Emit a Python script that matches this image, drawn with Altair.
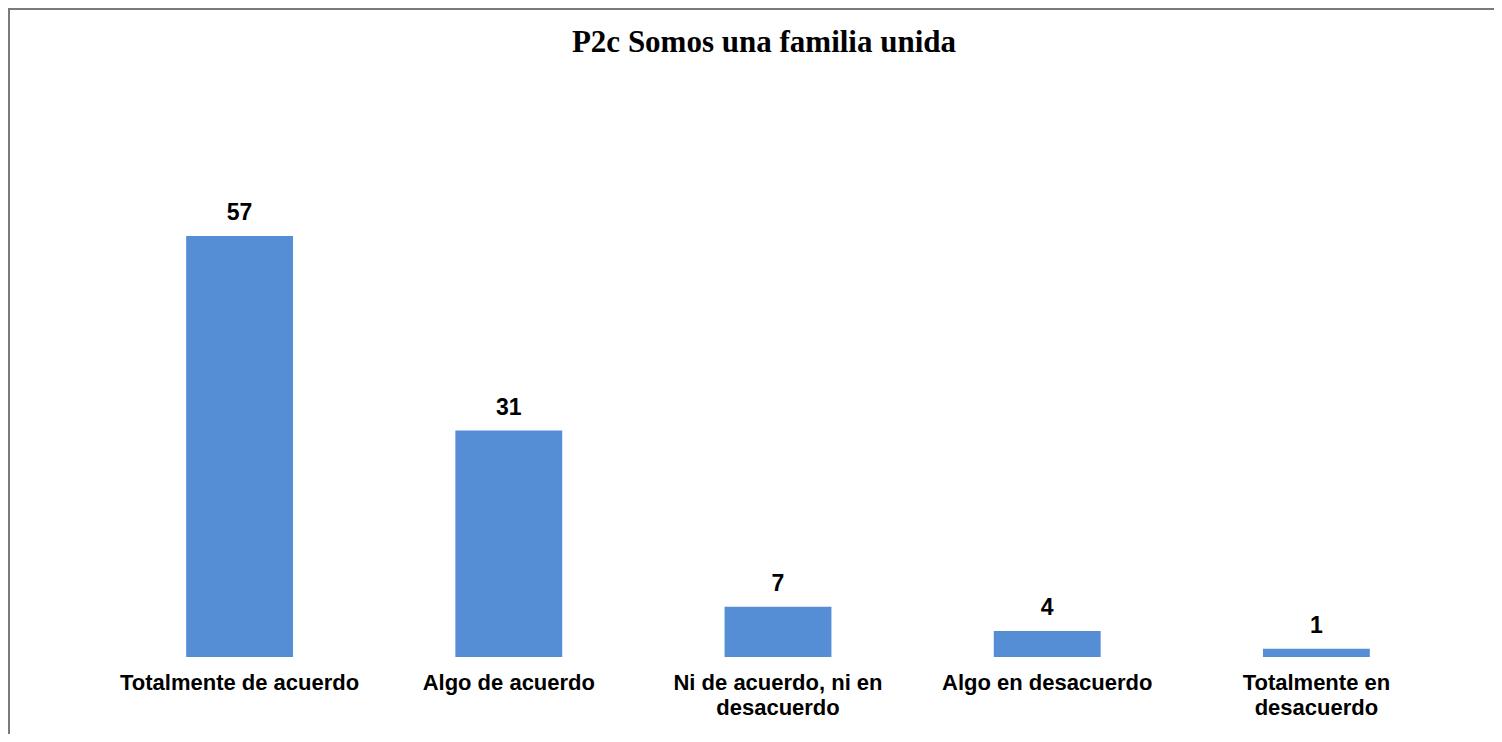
import altair as alt
import pandas as pd

categories = [
    "Totalmente de acuerdo",
    "Algo de acuerdo",
    "Ni de acuerdo, ni en desacuerdo",
    "Algo en desacuerdo",
    "Totalmente en desacuerdo",
]
values = [56.9, 30.6, 6.8, 3.5, 1.1]
label_lines = [
    ["Totalmente de acuerdo"],
    ["Algo de acuerdo"],
    ["Ni de acuerdo, ni en", "desacuerdo"],
    ["Algo en desacuerdo"],
    ["Totalmente en", "desacuerdo"],
]
title_text = "P2c Somos una familia unida"

df = pd.DataFrame({"cat": categories, "val": values})

W, H = 1486, 726
BASE = 649

# label expression that wraps the category names
parts = []
for c, lines in zip(categories, label_lines):
    arr = "[" + ",".join("'" + l + "'" for l in lines) + "]"
    parts.append(f"datum.label == '{c}' ? {arr} : ")
label_expr = "".join(parts) + "datum.label"

x_enc = alt.X(
    "cat:N",
    sort=categories,
    scale=alt.Scale(range=[97, 1443], paddingInner=0.603, paddingOuter=0.3015),
    axis=alt.Axis(
        title=None,
        orient="bottom",
        offset=-(H - BASE),
        domain=False,
        ticks=False,
        labelAngle=0,
        labelFont="Liberation Sans",
        labelFontSize=22,
        labelFontWeight="bold",
        labelColor="#000000",
        labelPadding=15,
        labelLimit=0,
        labelLineHeight=25,
        labelExpr=label_expr,
    ),
)
y_enc = alt.Y(
    "val:Q",
    scale=alt.Scale(domain=[0, 87.7], range=[BASE, 0], nice=False, zero=True),
    axis=None,
)

bars = alt.Chart(df).mark_bar(color="#558ED5").encode(x=x_enc, y=y_enc)
labels = alt.Chart(df).mark_text(
    baseline="alphabetic",
    dy=-16,
    font="Liberation Sans Narrow, Arial Narrow, Liberation Sans, sans-serif",
    fontSize=23,
    fontWeight="bold",
    color="#000000",
).encode(x=x_enc, y=y_enc, text=alt.Text("val:Q", format=".0f"))

# outer frame (left and top edges; right and bottom fall outside the window)
frame_left = alt.Chart(df).mark_rule(color="#7a7a7a", strokeWidth=2).encode(
    x=alt.value(1), y=alt.value(0), y2=alt.value(H)
)
frame_top = alt.Chart(df).mark_rule(color="#7a7a7a", strokeWidth=2).encode(
    y=alt.value(1), x=alt.value(0), x2=alt.value(W)
)

chart = (
    alt.layer(bars, labels, frame_left, frame_top)
    .properties(
        width=W,
        height=H,
        padding=0,
        autosize="none",
        title=alt.TitleParams(
            text=title_text,
            font="Liberation Serif",
            fontSize=31,
            fontWeight="bold",
            color="#000000",
            anchor="middle",
            baseline="top",
            offset=-52,
            dx=13,
        ),
    )
    .configure_view(stroke=None)
    .configure(background="#ffffff")
)

chart.save("out.html", embed_options={"renderer": "svg", "actions": False})
